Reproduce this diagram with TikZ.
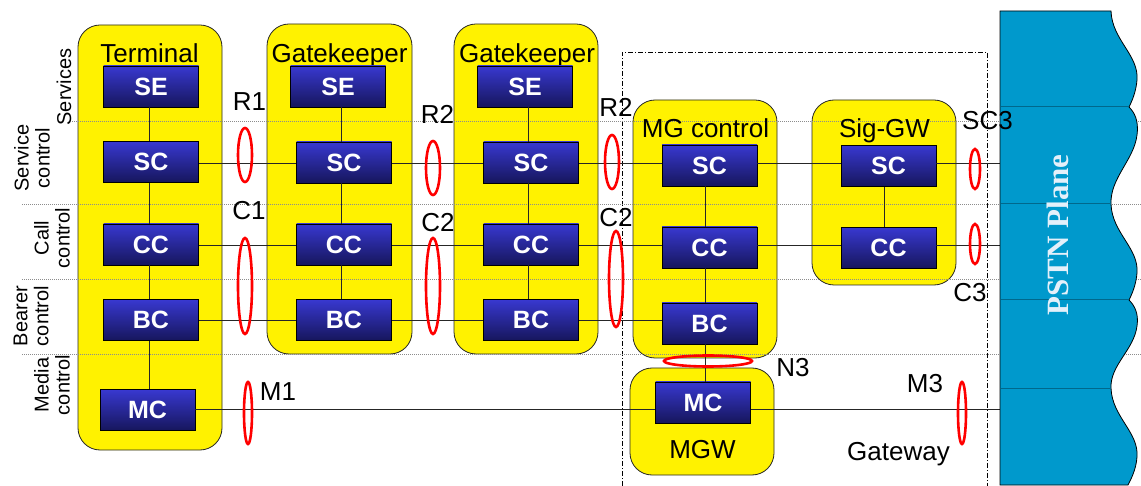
\documentclass[tikz,border=0pt]{standalone}
\usepackage{fontspec}
\setmainfont{Liberation Sans}
\newfontfamily\pstnfont{Liberation Serif}
\definecolor{boxtop}{RGB}{56,56,208}
\definecolor{boxbot}{RGB}{22,22,92}
\definecolor{pstn}{RGB}{0,153,204}
\definecolor{pstnline}{RGB}{0,104,140}
\definecolor{pstntext}{RGB}{228,240,250}
\begin{document}
\begin{tikzpicture}[x=1pt,y=-1pt,
  group/.style={draw=black!85, line width=0.8pt, fill=yellow, rounded corners=22pt, inner sep=0pt},
  fbox/.style={draw=black, line width=0.8pt, top color=boxtop, bottom color=boxbot, minimum width=95pt, minimum height=41pt, inner sep=0pt, text=white, font=\fontsize{25}{25}\selectfont\bfseries},
  glabel/.style={font=\fontsize{26}{28}\selectfont, inner sep=0pt, anchor=base},
  llabel/.style={font=\fontsize{20}{21}\selectfont, align=center, rotate=90, inner sep=0pt},
  ring/.style={draw=red, line width=2.6pt},
  conn/.style={line width=0.9pt, draw=black!85},
  layer/.style={draw=black!45, line width=0.7pt, dash pattern=on 1pt off 1pt},
  frame/.style={draw=black, line width=0.8pt, dash pattern=on 5pt off 2pt on 1pt off 2pt},
  pstnshape/.style={fill=pstn, draw=black, line width=0.8pt},
  pline/.style={draw=pstnline, line width=1pt},
]
\useasboundingbox (0,0) rectangle (1141,486);

% gateway frame
\draw[frame] (622,486) -- (622,52) -- (987,52) -- (987,486);

% groups
\node[group, minimum width=144pt, minimum height=425pt] (term) at (150,237.5) {};
\node[group, minimum width=145pt, minimum height=330pt] (gk1) at (339.5,189) {};
\node[group, minimum width=144pt, minimum height=330pt] (gk2) at (526,189) {};
\node[group, minimum width=144pt, minimum height=258pt] (mgc) at (705,229) {};
\node[group, minimum width=144pt, minimum height=107pt] (mgw) at (702,421.5) {};
\node[group, minimum width=144pt, minimum height=185pt] (sgw) at (884,192.5) {};

% layer separators
\draw[layer] (72,121) -- (1141,121);
\draw[layer] (22,204) -- (1141,204);
\draw[layer] (22,279) -- (1141,279);
\draw[layer] (22,354) -- (1141,354);

% group labels
\node[glabel] (termL) at (149.5,63) {Terminal};
\node[glabel] (gk1L) at (339.5,63) {Gatekeeper};
\node[glabel] (gk2L) at (527,63) {Gatekeeper};
\node[glabel] (mgcL) at (705.5,138) {MG control};
\node[glabel] (mgwL) at (702.5,458) {MGW};
\node[glabel] (sgwL) at (884.5,138) {Sig-GW};

% functional boxes
\node[fbox] (tSE) at (151,86.5) {SE};
\node[fbox] (tSC) at (151,162) {SC};
\node[fbox] (tCC) at (151,244.5) {CC};
\node[fbox] (tBC) at (151,320) {BC};
\node[fbox] (tMC) at (147.5,410) {MC};

\node[fbox] (g1SE) at (338,86.5) {SE};
\node[fbox] (g1SC) at (344,162.5) {SC};
\node[fbox] (g1CC) at (344,244.5) {CC};
\node[fbox] (g1BC) at (344,320) {BC};

\node[fbox] (g2SE) at (525,86.5) {SE};
\node[fbox] (g2SC) at (531,162.5) {SC};
\node[fbox] (g2CC) at (531,244.5) {CC};
\node[fbox] (g2BC) at (531,320) {BC};

\node[fbox] (mSC) at (709.5,165.5) {SC};
\node[fbox] (mCC) at (709.5,247.5) {CC};
\node[fbox] (mBC) at (709.5,323.5) {BC};
\node[fbox] (mMC) at (703,402.5) {MC};

\node[fbox] (sSC) at (888.5,166) {SC};
\node[fbox] (sCC) at (888.5,248) {CC};

% row reference points at the PSTN edge
\coordinate (pSC) at (1000,163);
\coordinate (pCC) at (1000,245);
\coordinate (pBC) at (1000,320);
\coordinate (pMC) at (1000,409);
\coordinate (tcol) at (149,0);
\coordinate (g1col) at (341,0);
\coordinate (g2col) at (528,0);
\coordinate (mcol) at (705,0);
\coordinate (scol) at (884,0);

% vertical connectors
\draw[conn] (tSE.south -| tcol) -- (tSC.north -| tcol);
\draw[conn] (tSC.south -| tcol) -- (tCC.north -| tcol);
\draw[conn] (tCC.south -| tcol) -- (tBC.north -| tcol);
\draw[conn] (tBC.south -| tcol) -- (tMC.north -| tcol);
\draw[conn] (g1SE.south -| g1col) -- (g1SC.north -| g1col);
\draw[conn] (g1SC.south -| g1col) -- (g1CC.north -| g1col);
\draw[conn] (g1CC.south -| g1col) -- (g1BC.north -| g1col);
\draw[conn] (g2SE.south -| g2col) -- (g2SC.north -| g2col);
\draw[conn] (g2SC.south -| g2col) -- (g2CC.north -| g2col);
\draw[conn] (g2CC.south -| g2col) -- (g2BC.north -| g2col);
\draw[conn] (mSC.south -| mcol) -- (mCC.north -| mcol);
\draw[conn] (mCC.south -| mcol) -- (mBC.north -| mcol);
\draw[conn] (mBC.south -| mcol) -- (mMC.north -| mcol);
\draw[conn] (sSC.south -| scol) -- (sCC.north -| scol);

% horizontal connectors
\draw[conn] (tSC.east |- pSC) -- (g1SC.west |- pSC);
\draw[conn] (g1SC.east |- pSC) -- (g2SC.west |- pSC);
\draw[conn] (g2SC.east |- pSC) -- (mSC.west |- pSC);
\draw[conn] (mSC.east |- pSC) -- (sSC.west |- pSC);
\draw[conn] (sSC.east |- pSC) -- (pSC);
\draw[conn] (tCC.east |- pCC) -- (g1CC.west |- pCC);
\draw[conn] (g1CC.east |- pCC) -- (g2CC.west |- pCC);
\draw[conn] (g2CC.east |- pCC) -- (mCC.west |- pCC);
\draw[conn] (mCC.east |- pCC) -- (sCC.west |- pCC);
\draw[conn] (sCC.east |- pCC) -- (pCC);
\draw[conn] (tBC.east |- pBC) -- (g1BC.west |- pBC);
\draw[conn] (g1BC.east |- pBC) -- (g2BC.west |- pBC);
\draw[conn] (g2BC.east |- pBC) -- (mBC.west |- pBC);
\draw[conn] (tMC.east |- pMC) -- (mMC.west |- pMC);
\draw[conn] (mMC.east |- pMC) -- (pMC);

% reference point rings
\draw[ring] (245,155) ellipse [x radius=7, y radius=27];
\draw[ring] (245,286) ellipse [x radius=7, y radius=48];
\draw[ring] (433,168) ellipse [x radius=7, y radius=27];
\draw[ring] (433,286) ellipse [x radius=7, y radius=48];
\draw[ring] (612,162) ellipse [x radius=7, y radius=27];
\draw[ring] (616,279) ellipse [x radius=7, y radius=48];
\draw[ring] (975,169) ellipse [x radius=5, y radius=20];
\draw[ring] (975,244) ellipse [x radius=5, y radius=20];
\draw[ring] (248,413) ellipse [x radius=4, y radius=31];
\draw[ring] (962,413) ellipse [x radius=4, y radius=31];
\draw[ring] (708,361) ellipse [x radius=44, y radius=5.5];

% PSTN plane
\draw[pstnshape] (1000,11) -- (1111,11)
  .. controls (1112,40) and (1139,55) .. (1137,80)
  .. controls (1136,92) and (1132,101) .. (1129,107)
  .. controls (1134,112) and (1139,120) .. (1137,135)
  .. controls (1134,160) and (1110,178) .. (1111,204)
  .. controls (1112,233) and (1139,248) .. (1137,273)
  .. controls (1136,285) and (1132,294) .. (1129,300)
  .. controls (1134,305) and (1139,313) .. (1137,326)
  .. controls (1134,350) and (1110,365) .. (1111,388)
  .. controls (1112,417) and (1139,432) .. (1137,457)
  .. controls (1136,470) and (1131,479) .. (1128,485)
  -- (1000,485) -- cycle;
\draw[pline] (1000.5,107) -- (1128.5,107);
\draw[pline] (1000.5,204) -- (1110.5,204);
\draw[pline] (1000.5,300) -- (1128.5,300);
\draw[pline] (1000.5,388) -- (1110.5,388);
\node[rotate=90, text=pstntext, font=\pstnfont\bfseries\fontsize{31}{31}\selectfont, inner sep=0pt] (pstnL) at (1058,235) {PSTN Plane};

% layer labels
\node[llabel] (lServ) at (64,87) {Services};
\node[llabel] (lSC) at (32,158) {Service\\control};
\node[llabel] (lCC) at (52,238) {Call\\control};
\node[llabel] (lBC) at (31,316) {Bearer\\control};
\node[llabel] (lMC) at (52,385) {Media\\control};

% reference point labels
\node[glabel] (R1) at (249.5,111) {R1};
\node[glabel] (C1) at (249,220) {C1};
\node[glabel] (R2a) at (437.5,124) {R2};
\node[glabel] (C2a) at (438,232) {C2};
\node[glabel] (R2b) at (616,117) {R2};
\node[glabel] (C2b) at (616,227) {C2};
\node[glabel] (SC3) at (987.5,130) {SC3};
\node[glabel] (C3) at (970,302) {C3};
\node[glabel] (M1) at (278,400) {M1};
\node[glabel] (M3) at (925,392) {M3};
\node[glabel] (N3) at (793,377) {N3};
\node[glabel] (gwL) at (898.5,460) {Gateway};
\end{tikzpicture}
\end{document}
